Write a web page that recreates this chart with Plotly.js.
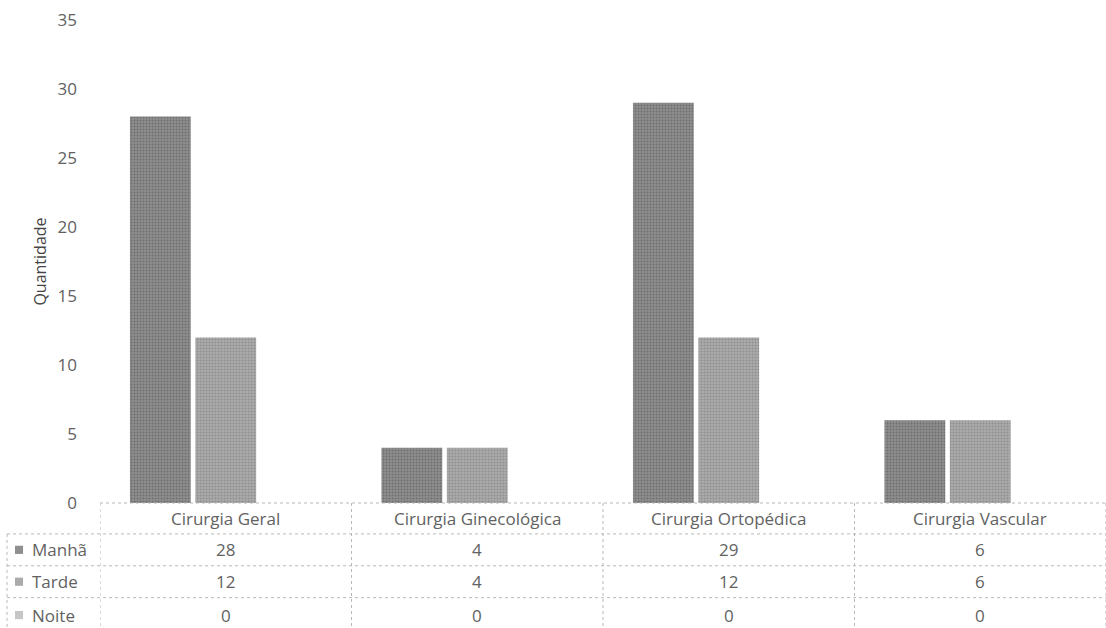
<!DOCTYPE html>
<html>
<head>
<meta charset="utf-8">
<script src="https://cdn.plot.ly/plotly-3.0.1.min.js"></script>
<style>
html,body{margin:0;padding:0;background:#fff;}
#chart{width:1106px;height:628px;}
</style>
</head>
<body>
<div id="chart"></div>
<script>
var categories = ["Cirurgia Geral", "Cirurgia Ginecológica", "Cirurgia Ortopédica", "Cirurgia Vascular"];
var seriesNames = ["Manhã", "Tarde", "Noite"];
var manha = [28, 4, 29, 6];
var tarde = [12, 4, 12, 6];
var noite = [0, 0, 0, 0];
var seriesValues = [manha, tarde, noite];
var seriesColors = ["#8f8f8f", "#ababab", "#c6c6c6"];
var seriesDots = ["#6e6e6e", "#8e8e8e", "#a8a8a8"];
var yTicks = [0, 5, 10, 15, 20, 25, 30, 35];

var textColor = "#626262";
var fontFam = "'Open Sans', 'Noto Sans', sans-serif";

var traces = seriesNames.map(function (n, i) {
  return {
    type: "bar",
    name: n,
    x: [0, 1, 2, 3],
    y: seriesValues[i],
    marker: {
      color: seriesColors[i],
      line: { width: 0 },
      pattern: { shape: ".", size: 3, solidity: 0.35, fgcolor: seriesDots[i], bgcolor: seriesColors[i], fillmode: "replace" }
    },
    hoverinfo: "none"
  };
});

// table geometry (paper coords, 0 = y zero line)
var rowLines = [0, -0.064, -0.130, -0.196, -0.27];
var rowCenters = [-0.032, -0.097, -0.163, -0.232];
var leftX = -0.0924;
var lineStyle = { color: "#b8b8b8", width: 1, dash: "dot" };

var shapes = [];
shapes.push({ type: "line", xref: "x", yref: "paper", x0: -0.5, x1: 3.5, y0: rowLines[0], y1: rowLines[0], line: lineStyle });
for (var r = 1; r < rowLines.length - 1; r++) {
  shapes.push({ type: "line", xref: "paper", yref: "paper", x0: leftX, x1: 1, y0: rowLines[r], y1: rowLines[r], line: lineStyle });
}
for (var c = 0; c <= categories.length; c++) {
  shapes.push({ type: "line", xref: "x", yref: "paper", x0: c - 0.5, x1: c - 0.5, y0: rowLines[0], y1: rowLines[rowLines.length - 1], line: lineStyle });
}
shapes.push({ type: "line", xref: "paper", yref: "paper", x0: leftX, x1: leftX, y0: rowLines[1], y1: rowLines[rowLines.length - 1], line: lineStyle });

var annotations = [];
categories.forEach(function (cat, i) {
  annotations.push({ xref: "x", yref: "paper", x: i, y: rowCenters[0], text: cat, showarrow: false,
    xanchor: "center", yanchor: "middle", font: { family: fontFam, size: 17, color: textColor } });
});
seriesNames.forEach(function (n, s) {
  shapes.push({ type: "rect", xref: "paper", yref: "paper", x0: -0.0845, x1: -0.0765,
    y0: rowCenters[s + 1] - 0.0085, y1: rowCenters[s + 1] + 0.0085,
    fillcolor: seriesColors[s], line: { width: 0 } });
  annotations.push({ xref: "paper", yref: "paper", x: -0.0700, y: rowCenters[s + 1], text: n, showarrow: false,
    xanchor: "left", yanchor: "middle", font: { family: fontFam, size: 17, color: textColor } });
  seriesValues[s].forEach(function (v, i) {
    annotations.push({ xref: "x", yref: "paper", x: i, y: rowCenters[s + 1], text: String(v), showarrow: false,
      xanchor: "center", yanchor: "middle", font: { family: fontFam, size: 17, color: textColor } });
  });
});

var layout = {
  width: 1106,
  height: 628,
  paper_bgcolor: "#ffffff",
  plot_bgcolor: "#ffffff",
  margin: { l: 100, r: 0, t: 20, b: 125 },
  showlegend: false,
  barmode: "group",
  bargap: 0.22,
  bargroupgap: 0.07,
  xaxis: {
    range: [-0.5, 3.5],
    showticklabels: false,
    showgrid: false,
    zeroline: false,
    showline: false,
    ticks: ""
  },
  yaxis: {
    range: [0, 35],
    tickvals: yTicks,
    ticktext: yTicks.map(String),
    showgrid: false,
    zeroline: false,
    showline: false,
    ticks: "",
    ticklabelstandoff: 22,
    tickfont: { family: fontFam, size: 17, color: textColor },
    title: { text: "Quantidade", font: { family: fontFam, size: 16, color: "#444444" }, standoff: 6 },
    automargin: false
  },
  shapes: shapes,
  annotations: annotations
};

Plotly.newPlot("chart", traces, layout, { displayModeBar: false, staticPlot: true });
</script>
</body>
</html>
